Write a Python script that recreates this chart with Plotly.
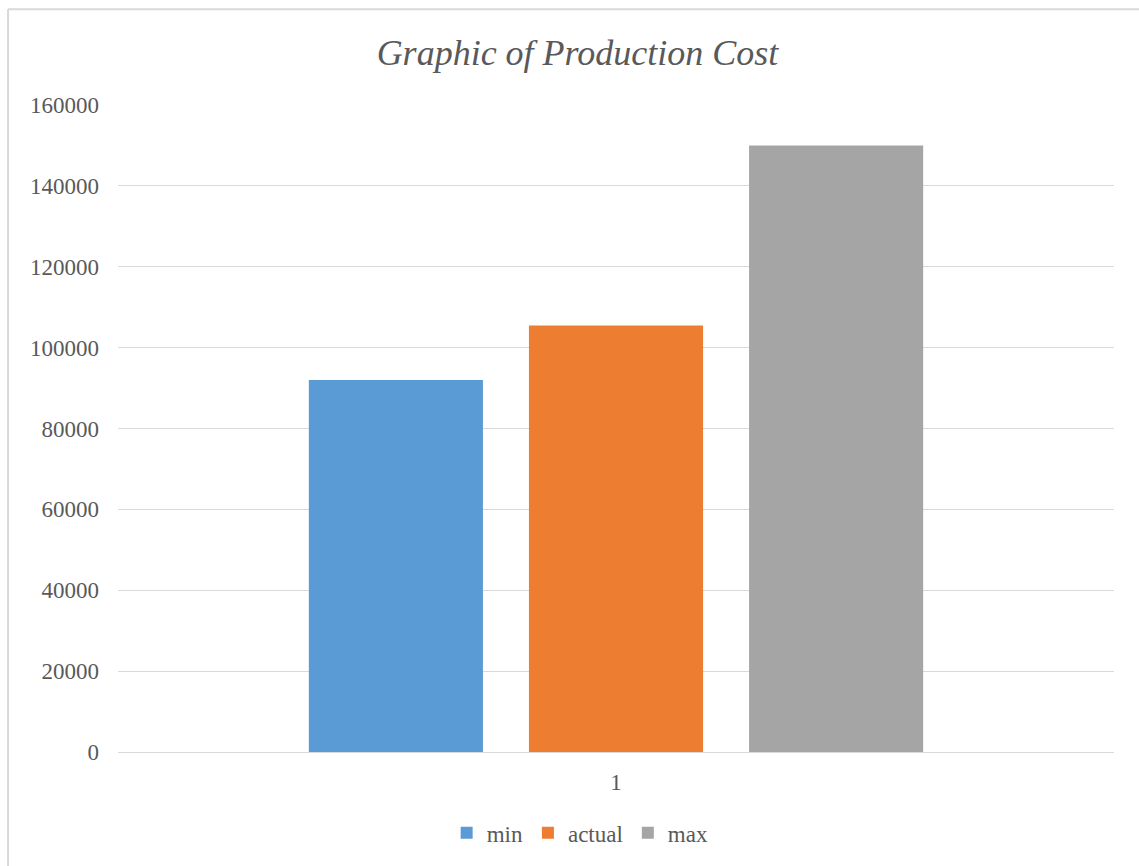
import plotly.graph_objects as go

# Production cost figures for the single period shown
categories = ["1"]
series_names = ["min", "actual", "max"]
min_cost = [92000]
actual_cost = [105500]
max_cost = [150000]
series_colors = ["#5B9BD5", "#ED7D31", "#A5A5A5"]

y_ticks = [0, 20000, 40000, 60000, 80000, 100000, 120000, 140000, 160000]

serif = "'Liberation Serif', 'DejaVu Serif', serif"
text_gray = "#595959"
grid_gray = "#D9D9D9"

fig = go.Figure()
for name, vals, col in zip(series_names, [min_cost, actual_cost, max_cost], series_colors):
    fig.add_trace(go.Bar(x=categories, y=vals, name=name, marker=dict(color=col, line=dict(width=0))))

# light chart-area border (left and top edges visible in frame)
fig.add_shape(type="line", xref="paper", yref="paper",
              x0=-0.1104, x1=-0.1104, y0=-0.3, y1=1.148,
              line=dict(color=grid_gray, width=2), layer="below")
fig.add_shape(type="line", xref="paper", yref="paper",
              x0=-0.1104, x1=1.1, y0=1.148, y1=1.148,
              line=dict(color=grid_gray, width=2), layer="below")

fig.update_layout(
    width=1139, height=866,
    margin=dict(l=118, r=25, t=105, b=112),
    paper_bgcolor="white", plot_bgcolor="white",
    barmode="group", bargap=0.337, bargroupgap=0.209,
    title=dict(text="<i>Graphic of Production Cost</i>", xref="container", yref="container",
               x=0.507, xanchor="center", y=0.94, yanchor="middle",
               font=dict(family=serif, size=36, color=text_gray)),
    font=dict(family=serif, size=23, color=text_gray),
    legend=dict(orientation="h", xref="paper", yref="paper", x=0.464, xanchor="center",
                y=-0.125, yanchor="middle", font=dict(family=serif, size=23, color=text_gray),
                itemclick=False, bgcolor="rgba(0,0,0,0)"),
    showlegend=True,
)
fig.update_yaxes(range=[0, 160000], tickvals=y_ticks, tickformat="d",
                 showgrid=True, gridcolor=grid_gray, gridwidth=1,
                 zeroline=True, zerolinecolor=grid_gray, zerolinewidth=1,
                 showline=False, ticks="", ticklabelstandoff=18,
                 tickfont=dict(family=serif, size=23, color=text_gray))
fig.update_xaxes(type="category", showgrid=False, showline=False, ticks="",
                 ticklabelstandoff=14,
                 tickfont=dict(family=serif, size=23, color=text_gray))

fig.write_html("out.html")
